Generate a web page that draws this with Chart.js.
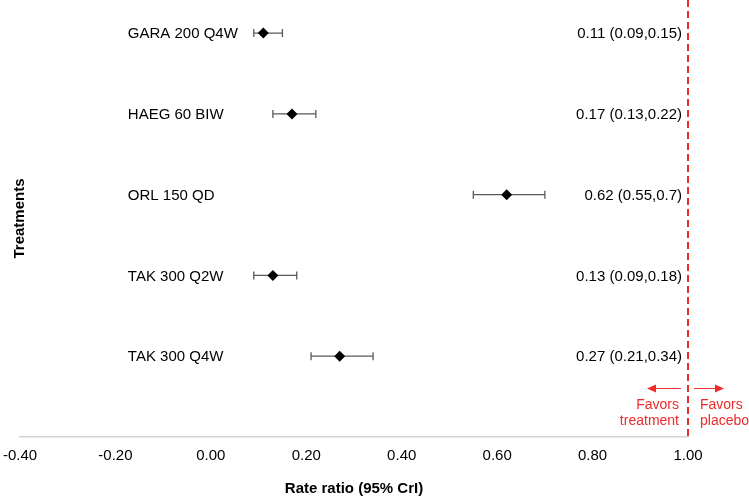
<!DOCTYPE html>
<html>
<head>
<meta charset="utf-8">
<script src="https://cdn.jsdelivr.net/npm/chart.js@4.4.1/dist/chart.umd.min.js"></script>
<style>
  html, body { margin: 0; padding: 0; background: #ffffff; }
  #wrap { width: 749px; height: 498px; position: relative; }
</style>
</head>
<body>
<div id="wrap"><canvas id="c"></canvas></div>
<script>
// ---- data ----
const treatments = ['GARA 200 Q4W', 'HAEG 60 BIW', 'ORL 150 QD', 'TAK 300 Q2W', 'TAK 300 Q4W'];
const estimates  = [0.11, 0.17, 0.62, 0.13, 0.27];
const lowerCrI   = [0.09, 0.13, 0.55, 0.09, 0.21];
const upperCrI   = [0.15, 0.22, 0.70, 0.18, 0.34];
const xTickValues = [-0.4, -0.2, 0.0, 0.2, 0.4, 0.6, 0.8, 1.0];
const referenceValue = 1.0;
const xAxisTitle = 'Rate ratio (95% CrI)';
const yAxisTitle = 'Treatments';
const favorsLeft = ['Favors', 'treatment'];
const favorsRight = ['Favors', 'placebo'];

const FONT = "'Liberation Sans', Arial, sans-serif";
const RED = '#ee2b2b';

const rowY = treatments.map((_, i) => treatments.length - i);
const points = estimates.map((v, i) => ({ x: v, y: rowY[i] }));
const ciText = estimates.map((v, i) => `${v} (${lowerCrI[i]},${upperCrI[i]})`);

const forestPlugin = {
  id: 'forest',
  beforeDatasetsDraw(chart) {
    const { ctx, chartArea, scales: { x, y } } = chart;
    ctx.save();
    // error bars
    ctx.strokeStyle = '#595959';
    ctx.lineWidth = 1.3;
    for (let i = 0; i < estimates.length; i++) {
      const py = y.getPixelForValue(rowY[i]);
      const x1 = x.getPixelForValue(lowerCrI[i]);
      const x2 = x.getPixelForValue(upperCrI[i]);
      ctx.beginPath();
      ctx.moveTo(x1, py); ctx.lineTo(x2, py);
      ctx.moveTo(x1, py - 4); ctx.lineTo(x1, py + 4);
      ctx.moveTo(x2, py - 4); ctx.lineTo(x2, py + 4);
      ctx.stroke();
    }
    // treatment labels
    ctx.fillStyle = '#000';
    ctx.font = `15px ${FONT}`;
    ctx.textBaseline = 'middle';
    ctx.textAlign = 'left';
    const labelX = x.getPixelForValue(-0.174);
    treatments.forEach((t, i) => ctx.fillText(t, labelX, y.getPixelForValue(rowY[i]) + 1));
    // CI text
    ctx.textAlign = 'right';
    const refPx = x.getPixelForValue(referenceValue);
    ciText.forEach((t, i) => ctx.fillText(t, refPx - 6, y.getPixelForValue(rowY[i]) + 1));

    // reference dashed line
    ctx.strokeStyle = RED;
    ctx.lineWidth = 2;
    ctx.setLineDash([7, 4]);
    ctx.beginPath();
    ctx.moveTo(refPx, chartArea.top);
    ctx.lineTo(refPx, chartArea.bottom + 2);
    ctx.stroke();
    ctx.setLineDash([]);

    // arrows
    const ay = y.getPixelForValue(0.6);
    ctx.lineWidth = 1;
    ctx.fillStyle = RED;
    // left arrow
    const lx1 = refPx - 7, lx2 = refPx - 41;
    ctx.beginPath(); ctx.moveTo(lx1, ay); ctx.lineTo(lx2 + 8, ay); ctx.stroke();
    ctx.beginPath(); ctx.moveTo(lx2, ay); ctx.lineTo(lx2 + 9, ay - 4); ctx.lineTo(lx2 + 9, ay + 4); ctx.closePath(); ctx.fill();
    // right arrow
    const rx1 = refPx + 6, rx2 = refPx + 36;
    ctx.beginPath(); ctx.moveTo(rx1, ay); ctx.lineTo(rx2 - 8, ay); ctx.stroke();
    ctx.beginPath(); ctx.moveTo(rx2, ay); ctx.lineTo(rx2 - 9, ay - 4); ctx.lineTo(rx2 - 9, ay + 4); ctx.closePath(); ctx.fill();

    // favors text
    ctx.font = `14px ${FONT}`;
    ctx.textAlign = 'right';
    ctx.fillText(favorsLeft[0], refPx - 9, y.getPixelForValue(0.4));
    ctx.fillText(favorsLeft[1], refPx - 9, y.getPixelForValue(0.2));
    ctx.textAlign = 'left';
    ctx.fillText(favorsRight[0], refPx + 12, y.getPixelForValue(0.4));
    ctx.fillText(favorsRight[1], refPx + 12, y.getPixelForValue(0.2));

    // y axis title
    ctx.fillStyle = '#000';
    ctx.font = `bold 15px ${FONT}`;
    ctx.textAlign = 'center';
    ctx.textBaseline = 'middle';
    ctx.translate(chartArea.left, (chartArea.top + chartArea.bottom) / 2);
    ctx.rotate(-Math.PI / 2);
    ctx.fillText(yAxisTitle, 0, 0);
    ctx.restore();
  }
};

new Chart(document.getElementById('c'), {
  type: 'scatter',
  data: {
    datasets: [{
      data: points,
      pointStyle: 'rectRot',
      pointRadius: 5.5,
      pointHoverRadius: 5.5,
      backgroundColor: '#000',
      borderColor: '#000',
      borderWidth: 0
    }]
  },
  options: {
    responsive: true,
    maintainAspectRatio: false,
    animation: false,
    events: [],
    layout: { autoPadding: false, padding: { left: 20, right: 61, top: 0, bottom: 0 } },
    plugins: {
      legend: { display: false },
      tooltip: { enabled: false }
    },
    scales: {
      x: {
        type: 'linear',
        min: xTickValues[0],
        max: xTickValues[xTickValues.length - 1],
        afterBuildTicks(scale) { scale.ticks = xTickValues.map(v => ({ value: v })); },
        afterFit(scale) { scale.paddingLeft = 0; scale.paddingRight = 0; },
        grid: { display: false, drawTicks: false },
        border: { display: true, color: '#d3d3d3', width: 1.5 },
        ticks: {
          padding: 10,
          color: '#000',
          font: { family: FONT, size: 15 },
          callback: v => Number(v).toFixed(2),
          maxRotation: 0,
          autoSkip: false
        },
        title: {
          display: true,
          text: xAxisTitle,
          color: '#000',
          font: { family: FONT, size: 15, weight: 'bold' },
          padding: { top: 5, bottom: 0 }
        }
      },
      y: {
        type: 'linear',
        display: false,
        min: 0,
        max: 5.41
      }
    }
  },
  plugins: [forestPlugin]
});
</script>
</body>
</html>
